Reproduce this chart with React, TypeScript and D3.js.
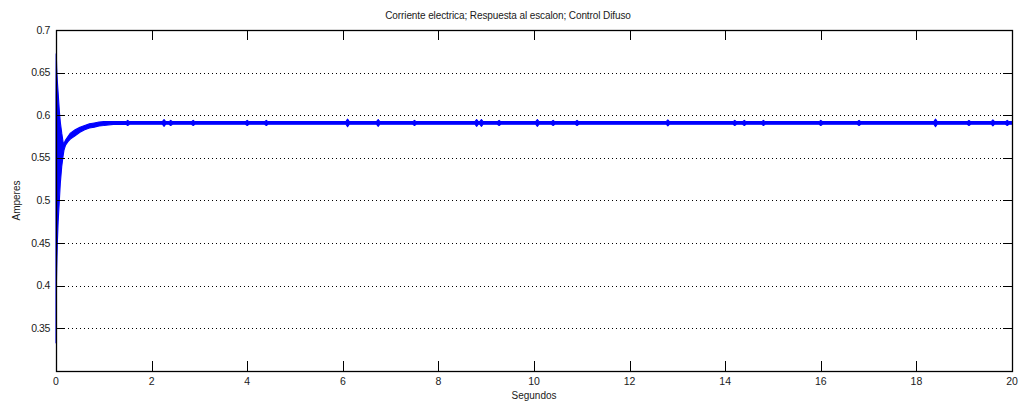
import React from "react";
import * as d3 from "d3";

const TITLE = "Corriente electrica; Respuesta al escalon; Control Difuso";
const X_LABEL = "Segundos";
const Y_LABEL = "Amperes";

const xTicks = [0, 2, 4, 6, 8, 10, 12, 14, 16, 18, 20];
const yTicks = [0.35, 0.4, 0.45, 0.5, 0.55, 0.6, 0.65, 0.7];
const yTickLabels = ["0.35", "0.4", "0.45", "0.5", "0.55", "0.6", "0.65", "0.7"];

// Transient envelope of the oscillating current (seconds, Amperes)
const transientTime = [0, 0.004, 0.008, 0.015, 0.028, 0.045, 0.07, 0.09, 0.12, 0.15, 0.167, 0.2, 0.25, 0.3, 0.4, 0.5, 0.6, 0.7, 0.8, 0.9, 1.0, 1.2];
const transientUpper = [0.62, 0.672, 0.668, 0.655, 0.64, 0.626, 0.605, 0.592, 0.579, 0.568, 0.567, 0.571, 0.575, 0.579, 0.583, 0.586, 0.588, 0.59, 0.591, 0.592, 0.5925, 0.5925];
const transientLower = [0.333, 0.36, 0.4, 0.42, 0.45, 0.475, 0.5, 0.52, 0.54, 0.553, 0.559, 0.565, 0.569, 0.572, 0.576, 0.58, 0.583, 0.585, 0.586, 0.5875, 0.588, 0.5893];

// Steady-state band
const steadyUpper = 0.5925;
const steadyLower = 0.5895;
const steadyCenter = 0.591;
const endTime = 20;

// Visible bursts in the steady state (time in s, half-amplitude in A)
const spikeTimes = [0.98, 1.5, 2.26, 2.4, 2.87, 4.0, 4.4, 6.1, 6.74, 7.5, 8.8, 8.9, 9.27, 10.07, 10.4, 10.9, 12.8, 14.2, 14.4, 14.8, 16.0, 16.8, 18.4, 19.1, 19.6, 19.9];
const spikeAmps = [0.0035, 0.003, 0.004, 0.003, 0.003, 0.003, 0.003, 0.0045, 0.004, 0.003, 0.004, 0.004, 0.003, 0.004, 0.003, 0.003, 0.0035, 0.003, 0.003, 0.003, 0.003, 0.003, 0.0045, 0.003, 0.0035, 0.003];

type Pt = { t: number; lo: number; hi: number };

function buildEnvelope(): Pt[] {
  const pts: Pt[] = transientTime.map((t, i) => ({ t, lo: transientLower[i], hi: transientUpper[i] }));
  const steady: Pt[] = [];
  spikeTimes.forEach((s, i) => {
    if (s <= 1.2) return;
    steady.push({ t: s - 0.035, lo: steadyLower, hi: steadyUpper });
    steady.push({ t: s, lo: steadyCenter - spikeAmps[i], hi: steadyCenter + spikeAmps[i] });
    steady.push({ t: s + 0.035, lo: steadyLower, hi: steadyUpper });
  });
  steady.push({ t: endTime, lo: steadyLower, hi: steadyUpper });
  steady.sort((a, b) => a.t - b.t);
  return pts.concat(steady);
}

export default function App() {
  const W = 1023;
  const H = 406;
  const left = 56, right = 1012, top = 30, bottom = 371;
  const x = d3.scaleLinear().domain([0, 20]).range([left, right]);
  const y = d3.scaleLinear().domain([0.3, 0.7]).range([bottom, top]);
  const env = buildEnvelope();
  const area = d3
    .area<Pt>()
    .x((d) => x(d.t))
    .y0((d) => y(d.lo))
    .y1((d) => y(d.hi));
  const font = "'Liberation Sans', Arial, Helvetica, sans-serif";
  const txt = "#1a1a1a";

  return (
    <svg
      width={W}
      height={H}
      style={{ position: "absolute", left: 0, top: 0, background: "#fff" }}
      fontFamily={font}
    >
      <rect x={0} y={0} width={W} height={H} fill="#fff" />
      {/* grid */}
      {yTicks
        .filter((v) => v < 0.699)
        .map((v) => (
          <line
            key={"g" + v}
            x1={left}
            x2={right}
            y1={Math.round(y(v)) + 0.5}
            y2={Math.round(y(v)) + 0.5}
            stroke="#000"
            strokeWidth={1}
            strokeDasharray="1,3"
          />
        ))}
      {/* data */}
      <path d={area(env) || ""} fill="#0000ff" stroke="#0000ff" strokeWidth={1.1} strokeLinejoin="round" />
      {/* box */}
      <rect x={left + 0.5} y={top + 0.5} width={right - left} height={bottom - top} fill="none" stroke="#000" strokeWidth={1.3} />
      {/* x ticks */}
      {xTicks.map((v) => (
        <g key={"x" + v}>
          <line x1={Math.round(x(v)) + 0.5} x2={Math.round(x(v)) + 0.5} y1={bottom} y2={bottom - 10} stroke="#000" />
          <line x1={Math.round(x(v)) + 0.5} x2={Math.round(x(v)) + 0.5} y1={top} y2={top + 10} stroke="#000" />
          <text x={x(v)} y={385} fontSize={10.5} textAnchor="middle" fill={txt}>
            {v}
          </text>
        </g>
      ))}
      {/* y ticks */}
      {yTicks.map((v, i) => (
        <g key={"y" + v}>
          <line x1={left} x2={left + 9} y1={Math.round(y(v)) + 0.5} y2={Math.round(y(v)) + 0.5} stroke="#000" />
          <line x1={right} x2={right - 9} y1={Math.round(y(v)) + 0.5} y2={Math.round(y(v)) + 0.5} stroke="#000" />
          <text x={50} y={y(v) + 3.5} fontSize={10.5} textAnchor="end" fill={txt} letterSpacing={-0.4}>
            {yTickLabels[i]}
          </text>
        </g>
      ))}
      <text x={508} y={19} fontSize={10} textAnchor="middle" fill={txt} letterSpacing={-0.1}>
        {TITLE}
      </text>
      <text x={534} y={399} fontSize={10} textAnchor="middle" fill={txt}>
        {X_LABEL}
      </text>
      <text
        x={0}
        y={0}
        fontSize={10}
        textAnchor="middle"
        fill={txt}
        transform={`translate(20, ${(top + bottom) / 2}) rotate(-90)`}
      >
        {Y_LABEL}
      </text>
    </svg>
  );
}
